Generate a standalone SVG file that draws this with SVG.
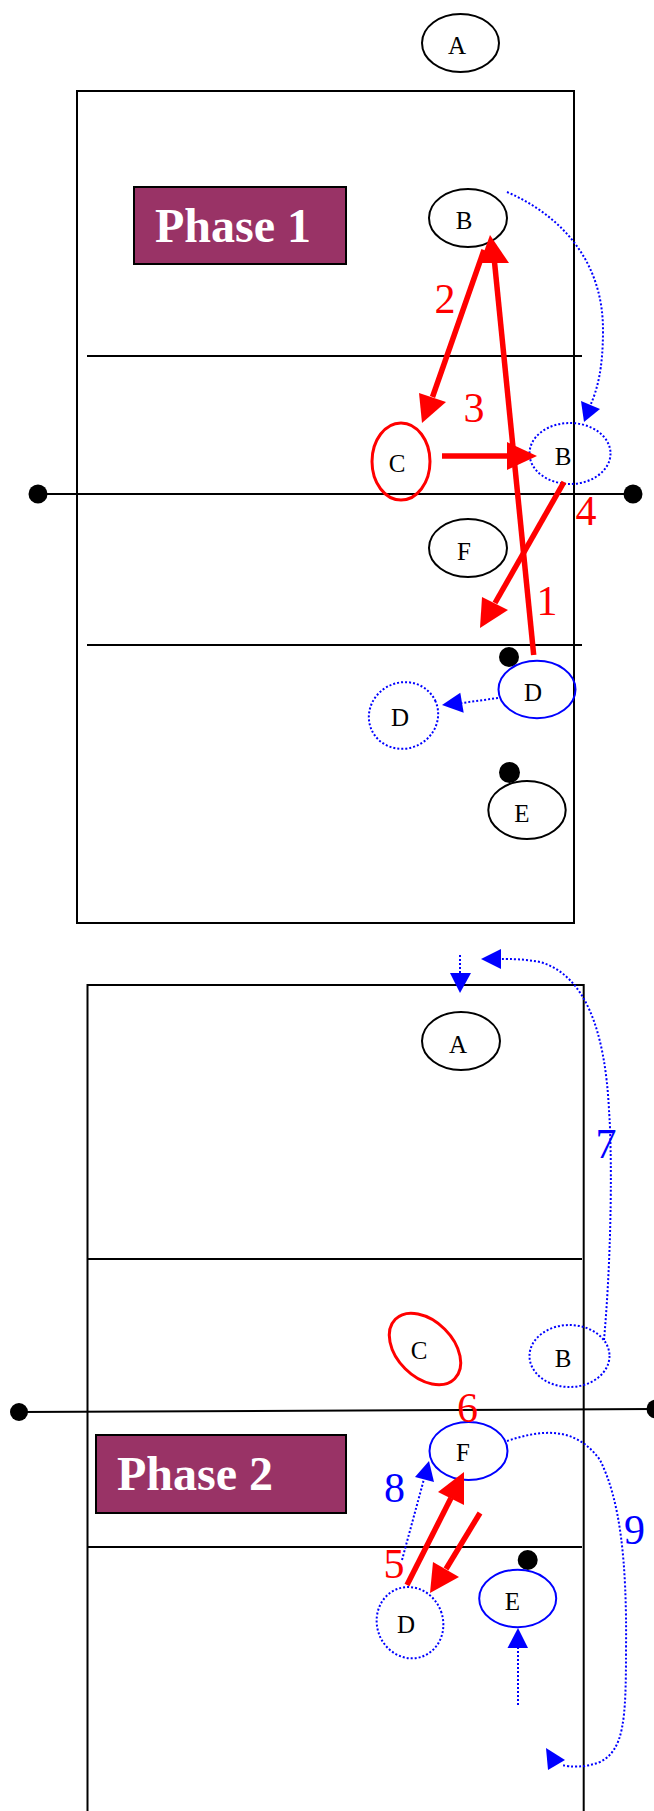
<svg xmlns="http://www.w3.org/2000/svg" width="654" height="1811" viewBox="0 0 654 1811">
<style>
.court{fill:none;stroke:#000;stroke-width:2}
.ln{stroke:#000;stroke-width:2;fill:none}
.dot{fill:#000}
.pl{fill:none;stroke:#000;stroke-width:2}
.plb{fill:none;stroke:#0000FF;stroke-width:2}
.pld{fill:none;stroke:#0000FF;stroke-width:2;stroke-dasharray:2 2}
.plr{fill:none;stroke:#FF0000;stroke-width:3}
.lt{font-family:"Liberation Serif","Times New Roman",serif;font-size:25px;fill:#000;text-anchor:middle}
.num{font-family:"Liberation Serif","Times New Roman",serif;font-size:42px;text-anchor:middle}
.r{fill:#FF0000}
.b{fill:#0000FF}
.box{fill:#993366;stroke:#000;stroke-width:2}
.bt{font-family:"Liberation Serif","Times New Roman",serif;font-size:48px;font-weight:bold;fill:#fff}
.ra{stroke:#FF0000;stroke-width:5.5;fill:none}
.rh{fill:#FF0000}
.ba{stroke:#0000FF;stroke-width:2;stroke-dasharray:2 2;fill:none}
.bh{fill:#0000FF}
</style>

<g id="court1">
<rect class="court" x="77" y="91" width="497" height="832"/>
<line class="ln" x1="87" y1="356" x2="582" y2="356"/>
<line class="ln" x1="87" y1="645" x2="582" y2="645"/>
<line class="ln" x1="38" y1="494" x2="633" y2="494"/>
<circle class="dot" cx="38" cy="494" r="9.5"/>
<circle class="dot" cx="633" cy="494" r="9.5"/>
</g>

<g id="court2">
<path class="court" d="M87.5,1811 L87.5,985 L583.7,985 L583.7,1811"/>
<line class="ln" x1="87.5" y1="1259" x2="582" y2="1259"/>
<line class="ln" x1="87.5" y1="1547" x2="582" y2="1547"/>
<line class="ln" x1="19" y1="1412" x2="656" y2="1409"/>
<circle class="dot" cx="19" cy="1412" r="9"/>
<circle class="dot" cx="656" cy="1409" r="9.5"/>
</g>

<g id="phase1-label">
<rect class="box" x="134" y="187" width="212" height="77"/>
<text class="bt" x="155" y="242">Phase 1</text>
</g>

<g id="phase2-label">
<rect class="box" x="96" y="1435" width="250" height="78"/>
<text class="bt" x="117" y="1490">Phase 2</text>
</g>

<g id="p1-A"><ellipse class="pl" cx="460.5" cy="43" rx="38.5" ry="29"/><text class="lt" x="457" y="54">A</text></g>
<g id="p1-B"><ellipse class="pl" cx="468" cy="218" rx="39" ry="29"/><text class="lt" x="464" y="229">B</text></g>
<g id="p1-C"><ellipse class="plr" cx="401" cy="461.5" rx="29" ry="38.5"/><text class="lt" x="397" y="472">C</text></g>
<g id="p1-B2"><ellipse class="pld" cx="570" cy="453.5" rx="40.5" ry="30.5"/><text class="lt" x="563" y="465">B</text></g>
<g id="p1-F"><ellipse class="pl" cx="468" cy="548" rx="39" ry="29"/><text class="lt" x="464" y="560">F</text></g>
<g id="p1-D"><circle class="dot" cx="509" cy="657" r="10"/><ellipse class="plb" cx="537" cy="689.5" rx="38.5" ry="28.7"/><text class="lt" x="533" y="701">D</text></g>
<g id="p1-D2"><ellipse class="pld" cx="403.5" cy="715.5" rx="35" ry="33" transform="rotate(-25 403.5 715.5)"/><text class="lt" x="400" y="726">D</text></g>
<g id="p1-E"><circle class="dot" cx="509.5" cy="772.5" r="10.5"/><ellipse class="pl" cx="527" cy="810" rx="38.7" ry="29"/><text class="lt" x="522" y="822">E</text></g>

<g id="p2-A"><ellipse class="pl" cx="461" cy="1041" rx="39" ry="29"/><text class="lt" x="458" y="1053">A</text></g>
<g id="p2-C"><ellipse class="plr" cx="425" cy="1349" rx="28" ry="42" transform="rotate(-45 425 1349)"/><text class="lt" x="419" y="1359">C</text></g>
<g id="p2-B"><ellipse class="pld" cx="569.5" cy="1356" rx="40" ry="31"/><text class="lt" x="563" y="1367">B</text></g>
<g id="p2-F"><ellipse class="plb" cx="468.5" cy="1451" rx="39" ry="29"/><text class="lt" x="463" y="1461">F</text></g>
<g id="p2-E"><circle class="dot" cx="527.7" cy="1560" r="10"/><ellipse class="plb" cx="517.7" cy="1598.5" rx="38.5" ry="28.7"/><text class="lt" x="512.5" y="1610">E</text></g>
<g id="p2-D"><ellipse class="pld" cx="410" cy="1622.7" rx="33" ry="36" transform="rotate(-20 410 1622.7)"/><text class="lt" x="406" y="1633">D</text></g>

<g id="connectors">
<!-- phase 1 -->
<line class="ra" x1="533.7" y1="655" x2="494.5" y2="262"/>
<polygon class="rh" points="490,235 480,263 509,263"/>
<line class="ra" x1="484" y1="250" x2="432.5" y2="397"/>
<polygon class="rh" points="422,423 419,393 446,402"/>
<line class="ra" x1="442" y1="456" x2="508" y2="456"/>
<polygon class="rh" points="537,456 507,442 507,470"/>
<line class="ra" x1="564" y1="482" x2="495" y2="603"/>
<polygon class="rh" points="480,628 482,597 508,610"/>
<path class="ba" d="M507,192 C560,215 603,260 603,330 C603,370 597,390 590.5,405"/>
<polygon class="bh" points="584,422 581,401 600,409"/>
<line class="ba" x1="498" y1="698" x2="462" y2="703"/>
<polygon class="bh" points="442,705 460.3,692.7 463.7,712.7"/>
<!-- phase 2 -->
<line class="ba" x1="460" y1="955" x2="460" y2="974"/>
<polygon class="bh" points="450,973 471,973 460,993"/>
<path class="ba" d="M604,1340 C612,1250 612,1150 609,1110 C605,1030 585,975 540,962 C525,959 510,959 501,959"/>
<polygon class="bh" points="481,959 501,949 501,969"/>
<path class="ba" d="M507,1441 C540,1430 575,1425 600,1460 C620,1500 627,1560 626,1650 C626,1720 624,1750 600,1762 C585,1768 570,1767 562,1765"/>
<polygon class="bh" points="546,1748 565,1760 548,1770"/>
<line class="ba" x1="402" y1="1560" x2="424" y2="1479"/>
<polygon class="bh" points="429,1461 415,1477 434,1482"/>
<line class="ba" x1="518" y1="1705" x2="518" y2="1648"/>
<polygon class="bh" points="507.5,1648 528,1648 518,1628"/>
<line class="ra" x1="407" y1="1585" x2="451" y2="1498"/>
<polygon class="rh" points="464,1472 438,1492 464,1505"/>
<line class="ra" x1="480" y1="1513" x2="446" y2="1569"/>
<polygon class="rh" points="430,1593 433,1562 459,1577"/>
</g>

<g id="labels">
<text class="num r" x="445" y="313">2</text>
<text class="num r" x="474" y="422">3</text>
<text class="num r" x="586" y="525">4</text>
<text class="num r" x="547" y="615">1</text>
<text class="num b" x="606" y="1158">7</text>
<text class="num r" x="467.5" y="1422">6</text>
<text class="num b" x="394.5" y="1502">8</text>
<text class="num r" x="394" y="1578">5</text>
<text class="num b" x="634.5" y="1544">9</text>
</g>
</svg>
